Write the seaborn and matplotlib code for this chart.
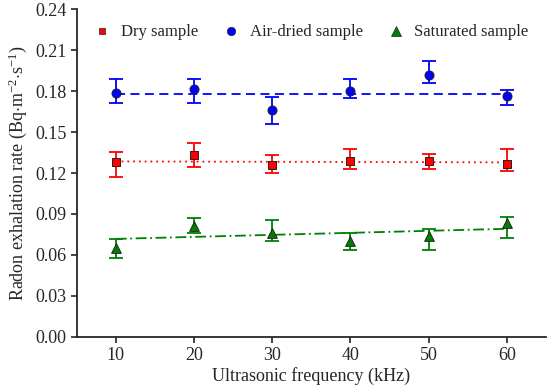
import numpy as np
import pandas as pd
import matplotlib
matplotlib.use('Agg')
import matplotlib.pyplot as plt
import seaborn as sns
from matplotlib.lines import Line2D

# data
freq = [10, 20, 30, 40, 50, 60]

dry = [0.1281, 0.1332, 0.1259, 0.1288, 0.1285, 0.1268]
dry_hi = [0.1351, 0.1420, 0.1329, 0.1379, 0.1337, 0.1379]
dry_lo = [0.1173, 0.1241, 0.1197, 0.1229, 0.1227, 0.1217]

air = [0.1787, 0.1817, 0.1665, 0.1804, 0.1920, 0.1763]
air_hi = [0.1892, 0.1892, 0.1755, 0.1892, 0.2020, 0.1812]
air_lo = [0.1716, 0.1716, 0.1562, 0.1751, 0.1861, 0.1699]

sat = [0.0649, 0.0815, 0.0759, 0.0698, 0.0740, 0.0830]
sat_hi = [0.0715, 0.0872, 0.0852, 0.0759, 0.0791, 0.0874]
sat_lo = [0.0580, 0.0759, 0.0703, 0.0639, 0.0639, 0.0720]

# fitted trend lines: value at 10 kHz and at 60 kHz
fit_x = [10, 60]
dry_fit = [0.1285, 0.1278]
air_fit = [0.1780, 0.1780]
sat_fit = [0.0717, 0.0791]

labels = ['Dry sample', 'Air-dried sample', 'Saturated sample']

sns.set_style('ticks')
plt.rcParams['font.family'] = ['Liberation Serif', 'DejaVu Serif']
plt.rcParams['mathtext.fontset'] = 'custom'
plt.rcParams['mathtext.rm'] = 'Liberation Serif'
plt.rcParams['mathtext.it'] = 'Liberation Serif:italic'

fig = plt.figure(figsize=(5.5, 3.89), dpi=100)
ax = fig.add_axes([0.1395, 0.1345, 0.853, 0.8415])

series = [
    (labels[0], dry, dry_lo, dry_hi, dry_fit, '#ff0000', 's', (0, (1, 2.2)), 5.5),
    (labels[1], air, air_lo, air_hi, air_fit, '#0000ff', 'o', (0, (5, 3)), 6.5),
    (labels[2], sat, sat_lo, sat_hi, sat_fit, '#008000', '^', (0, (6, 2, 1, 2)), 7),
]

rows = []
for name, y, lo, hi, fit, col, mk, ls, ms in series:
    for f, v in zip(freq, y):
        rows.append({'Frequency': f, 'Rate': v, 'Sample': name})
df = pd.DataFrame(rows)

handles = []
for name, y, lo, hi, fit, col, mk, ls, ms in series:
    y = np.array(y)
    yerr = [y - np.array(lo), np.array(hi) - y]
    sns.lineplot(x=fit_x, y=fit, ax=ax, color=col, linestyle=ls, lw=1.3)
    ax.errorbar(freq, y, yerr=yerr, fmt='none', ecolor=col, elinewidth=1.3,
                capsize=5, capthick=1.3, zorder=3)
    sub = df[df['Sample'] == name]
    sns.scatterplot(data=sub, x='Frequency', y='Rate', ax=ax, color=col,
                    marker=mk, s=ms ** 2, edgecolor='#222222', linewidth=0.7,
                    zorder=4, legend=False)
    handles.append(Line2D([], [], color=col, marker=mk, linestyle='none',
                          markersize=ms - 0.5, markeredgecolor='#222222',
                          markeredgewidth=0.5, label=name))

ax.set_xlim(5, 65)
ax.set_ylim(0, 0.24)
ax.set_xticks(freq)
ax.set_yticks(np.arange(0, 0.2401, 0.03))
ax.set_yticklabels([f'{v:.2f}' for v in np.arange(0, 0.2401, 0.03)])
ax.tick_params(labelsize=13, length=4, width=1.2, direction='out')
for s in ['left', 'bottom']:
    ax.spines[s].set_linewidth(1.3)
sns.despine(ax=ax)

ax.set_xlabel('Ultrasonic frequency (kHz)', fontsize=13, labelpad=2)
ax.set_ylabel(r'Radon exhalation rate (Bq$\cdot$m$^{-2}$$\cdot$s$^{-1}$)',
              fontsize=13, labelpad=4)

ax.legend(handles=handles, loc='upper center', bbox_to_anchor=(0.5, 1.0),
          ncol=3, frameon=False, fontsize=12, handletextpad=0.6,
          columnspacing=1.5, handlelength=1.0)

fig.savefig('out.png', dpi=100)
